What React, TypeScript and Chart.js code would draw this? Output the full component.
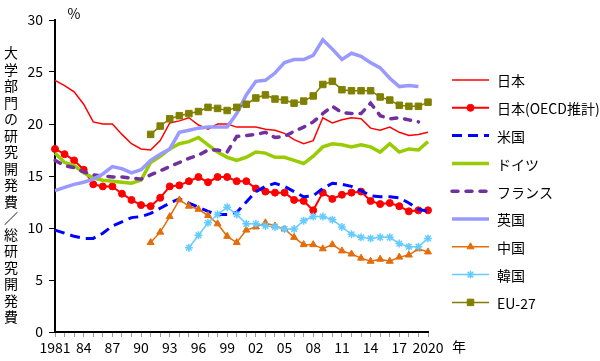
import React, { useEffect, useRef } from 'react';
import { Chart, registerables } from 'chart.js';

Chart.register(...registerables);

const FONT = "'Noto Sans CJK JP', 'Noto Sans', sans-serif";

const years = [
  '1981', '1982', '1983', '1984', '1985', '1986', '1987', '1988', '1989', '1990',
  '1991', '1992', '1993', '1994', '1995', '1996', '1997', '1998', '1999', '2000',
  '2001', '2002', '2003', '2004', '2005', '2006', '2007', '2008', '2009', '2010',
  '2011', '2012', '2013', '2014', '2015', '2016', '2017', '2018', '2019', '2020',
];

const xTickLabels = [
  '1981', '', '', '84', '', '', '87', '', '', '90', '', '', '93', '', '', '96', '', '', '99', '', '',
  '02', '', '', '05', '', '', '08', '', '', '11', '', '', '14', '', '', '17', '', '', '2020',
];

const yTitle = '大学部門の研究開発費／総研究開発費';
const unitLabel = '%';
const yearLabel = '年';

const japan = [
  24.2, 23.7, 23.1, 21.9, 20.2, 20.0, 20.0, 19.0, 18.1, 17.6,
  17.5, 18.4, 20.1, 20.3, 20.6, 19.9, 19.5, 20.0, 20.0, 19.7,
  19.7, 19.7, 19.5, 19.4, 19.1, 18.5, 18.1, 18.4, 20.6, 20.1,
  20.4, 20.6, 20.5, 19.6, 19.4, 19.7, 19.2, 18.9, 19.0, 19.2,
];
const japanOecd = [
  17.6, 17.1, 16.5, 15.6, 14.2, 14.0, 14.0, 13.3, 12.7, 12.2,
  12.1, 12.9, 14.0, 14.1, 14.5, 14.9, 14.4, 14.9, 14.9, 14.5,
  14.5, 13.8, 13.5, 13.4, 13.4, 12.7, 12.6, 11.7, 13.4, 12.8,
  13.2, 13.4, 13.5, 12.6, 12.3, 12.4, 12.1, 11.6, 11.7, 11.7,
];
const usa = [
  9.8, 9.5, 9.2, 9.0, 9.0, 9.5, 10.2, 10.6, 11.0, 11.1,
  11.4, 11.9, 12.4, 12.8, 12.4, 12.0, 11.6, 11.3, 11.3, 11.5,
  12.5, 13.5, 14.0, 14.3, 14.0, 13.5, 13.0, 13.1, 13.8, 14.3,
  14.2, 14.0, 13.6, 13.1, 13.0, 13.0, 12.9, 12.4, 11.8, 11.6,
];
const germany = [
  17.2, 16.3, 16.0, 15.3, 14.8, 14.6, 14.5, 14.4, 14.3, 14.6,
  16.3, 16.9, 17.6, 18.1, 18.3, 18.7, 18.0, 17.3, 16.8, 16.5,
  16.8, 17.3, 17.2, 16.8, 16.8, 16.5, 16.2, 16.9, 17.8, 18.1,
  18.0, 17.8, 18.0, 17.8, 17.3, 18.1, 17.3, 17.6, 17.5, 18.3,
];
const france = [
  16.5, 16.0, 15.8, 15.4, 15.1, 15.0, 14.9, 14.9, 14.8, 14.7,
  15.1, 15.5, 15.9, 16.3, 16.7, 17.0, 17.5, 17.5, 17.3, 18.8,
  18.9, 19.0, 19.2, 18.7, 18.8, 19.3, 19.7, 20.2, 21.0, 21.7,
  21.1, 21.0, 21.0, 22.0, 20.8, 20.5, 20.6, 20.4, 20.2, null,
];
const uk = [
  13.6, 13.9, 14.2, 14.4, 14.7, 15.2, 15.9, 15.7, 15.3, 15.6,
  16.5, 17.1, 17.6, 19.2, 19.4, 19.6, 19.7, 19.7, 19.7, 21.0,
  22.8, 24.1, 24.2, 24.9, 25.9, 26.2, 26.2, 26.6, 28.1, 27.2,
  26.2, 26.8, 26.5, 25.9, 25.4, 24.4, 23.6, 23.7, 23.6, null,
];
const china = [
  null, null, null, null, null, null, null, null, null, null,
  8.6, 9.6, 11.1, 12.7, 12.1, 11.8, 11.2, 10.4, 9.2, 8.6,
  9.8, 10.1, 10.5, 10.2, 9.9, 9.1, 8.4, 8.4, 8.0, 8.4,
  7.8, 7.5, 7.1, 6.8, 7.0, 6.8, 7.2, 7.4, 8.0, 7.7,
];
const korea = [
  null, null, null, null, null, null, null, null, null, null,
  null, null, null, null, 8.1, 9.3, 10.5, 11.3, 12.0, 11.3,
  10.4, 10.4, 10.2, 10.1, 9.9, 9.9, 10.7, 11.1, 11.1, 10.8,
  10.1, 9.4, 9.1, 9.0, 9.1, 9.1, 8.5, 8.2, 8.2, 9.0,
];
const eu27 = [
  null, null, null, null, null, null, null, null, null, null,
  19.0, 19.8, 20.5, 20.8, 21.0, 21.2, 21.6, 21.5, 21.3, 21.6,
  21.9, 22.5, 22.8, 22.4, 22.3, 22.0, 22.2, 22.7, 23.8, 24.1,
  23.3, 23.2, 23.2, 23.2, 22.6, 22.3, 21.8, 21.7, 21.7, 22.1,
];

function drawMarker(ctx: CanvasRenderingContext2D, style: string, x: number, y: number, r: number, fill: string, stroke: string, bw: number) {
  ctx.save();
  ctx.fillStyle = fill;
  ctx.strokeStyle = stroke;
  ctx.lineWidth = bw;
  ctx.setLineDash([]);
  ctx.beginPath();
  if (style === 'circle') {
    ctx.arc(x, y, r, 0, Math.PI * 2);
    ctx.fill();
    ctx.stroke();
  } else if (style === 'triangle') {
    ctx.moveTo(x, y - r);
    ctx.lineTo(x + 0.866 * r, y + 0.5 * r);
    ctx.lineTo(x - 0.866 * r, y + 0.5 * r);
    ctx.closePath();
    ctx.fill();
    ctx.stroke();
  } else if (style === 'rect') {
    const s = r * Math.SQRT1_2;
    ctx.rect(x - s, y - s, 2 * s, 2 * s);
    ctx.fill();
    ctx.stroke();
  } else if (style === 'star') {
    const d = r * Math.SQRT1_2;
    ctx.moveTo(x, y - r); ctx.lineTo(x, y + r);
    ctx.moveTo(x - r, y); ctx.lineTo(x + r, y);
    ctx.moveTo(x - d, y - d); ctx.lineTo(x + d, y + d);
    ctx.moveTo(x - d, y + d); ctx.lineTo(x + d, y - d);
    ctx.stroke();
  }
  ctx.restore();
}

const overlayPlugin = {
  id: 'overlay',
  afterDraw(chart: any) {
    const ctx: CanvasRenderingContext2D = chart.ctx;
    ctx.save();
    ctx.fillStyle = '#000';
    ctx.font = `14px ${FONT}`;
    ctx.textAlign = 'center';
    ctx.textBaseline = 'middle';
    Array.from(yTitle).forEach((c, i) => ctx.fillText(c, 11, 53 + i * 16.5));
    ctx.fillText(unitLabel, 74, 14);
    ctx.fillText(yearLabel, 459, 347);

    ctx.textAlign = 'left';
    chart.data.datasets.forEach((ds: any, i: number) => {
      const y = 80 + i * 27.8;
      ctx.save();
      ctx.strokeStyle = ds.borderColor;
      ctx.lineWidth = ds.borderWidth;
      ctx.lineCap = ds.borderCapStyle || 'butt';
      ctx.setLineDash(ds.borderDash || []);
      ctx.beginPath();
      ctx.moveTo(452, y);
      ctx.lineTo(489, y);
      ctx.stroke();
      ctx.restore();
      if (ds.pointRadius > 0) {
        drawMarker(ctx, ds.pointStyle, 470.5, y, ds.pointRadius, ds.pointBackgroundColor, ds.pointBorderColor, ds.pointBorderWidth);
      }
      ctx.fillStyle = '#000';
      ctx.font = `14px ${FONT}`;
      ctx.fillText(ds.label, 497, y + 1);
    });
    ctx.restore();
  },
};

export default function App() {
  const ref = useRef<HTMLCanvasElement | null>(null);

  useEffect(() => {
    if (!ref.current) return;
    const n = 9;
    const chart = new Chart(ref.current, {
      type: 'line',
      data: {
        labels: years,
        datasets: [
          { label: '日本', data: japan, borderColor: '#FF0000', borderWidth: 1.5, pointRadius: 0, order: n - 0 },
          { label: '日本(OECD推計)', data: japanOecd, borderColor: '#FF0000', borderWidth: 2, pointStyle: 'circle', pointRadius: 3.5, pointBackgroundColor: '#FF0000', pointBorderColor: '#FF0000', pointBorderWidth: 1, order: n - 1 },
          { label: '米国', data: usa, borderColor: '#0000FF', borderWidth: 3, borderDash: [10, 6], pointRadius: 0, order: n - 2 },
          { label: 'ドイツ', data: germany, borderColor: '#99CC00', borderWidth: 3.5, pointRadius: 0, order: n - 3 },
          { label: 'フランス', data: france, borderColor: '#7030A0', borderWidth: 3.5, borderDash: [6, 8], borderCapStyle: 'round', pointRadius: 0, order: n - 4 },
          { label: '英国', data: uk, borderColor: '#9999FF', borderWidth: 3.5, pointRadius: 0, order: n - 5 },
          { label: '中国', data: china, borderColor: '#E46C0A', borderWidth: 1.5, pointStyle: 'triangle', pointRadius: 4, pointBackgroundColor: '#E46C0A', pointBorderColor: '#E46C0A', pointBorderWidth: 1, order: n - 6 },
          { label: '韓国', data: korea, borderColor: '#66CCFF', borderWidth: 1.5, pointStyle: 'star', pointRadius: 4, pointBackgroundColor: '#66CCFF', pointBorderColor: '#66CCFF', pointBorderWidth: 1.5, order: n - 7 },
          { label: 'EU-27', data: eu27, borderColor: '#808000', borderWidth: 1.5, pointStyle: 'rect', pointRadius: 4.6, pointBackgroundColor: '#808000', pointBorderColor: '#808000', pointBorderWidth: 1, order: n - 8 },
        ] as any,
      },
      options: {
        responsive: false,
        devicePixelRatio: 1,
        animation: false,
        events: [],
        layout: { padding: { left: 0, top: 20, right: 172, bottom: 0 } },
        elements: { line: { tension: 0 } },
        plugins: { legend: { display: false }, tooltip: { enabled: false } },
        scales: {
          x: {
            type: 'category',
            offset: false,
            afterFit: (s: any) => { s.height = 29; },
            grid: { drawOnChartArea: false, drawTicks: true, tickLength: 5, color: '#999999' },
            border: { display: true, color: '#000000', width: 2 },
            ticks: {
              autoSkip: false,
              maxRotation: 0,
              minRotation: 0,
              padding: 2,
              color: '#000000',
              font: { family: FONT, size: 14 },
              callback: (_v: any, i: number) => xTickLabels[i],
            },
          },
          y: {
            min: 0,
            max: 30,
            afterFit: (s: any) => { s.width = 55; },
            grid: { drawOnChartArea: false, drawTicks: true, tickLength: 6, color: '#000000' },
            border: { display: true, color: '#000000', width: 2 },
            ticks: { stepSize: 5, padding: 6, color: '#000000', font: { family: FONT, size: 14 } },
          },
        },
      } as any,
      plugins: [overlayPlugin],
    });
    return () => chart.destroy();
  }, []);

  return (
    <div style={{ position: 'absolute', left: 0, top: 0, width: 600, height: 361, background: '#ffffff' }}>
      <canvas ref={ref} width={600} height={361} style={{ width: 600, height: 361, display: 'block' }} />
    </div>
  );
}
